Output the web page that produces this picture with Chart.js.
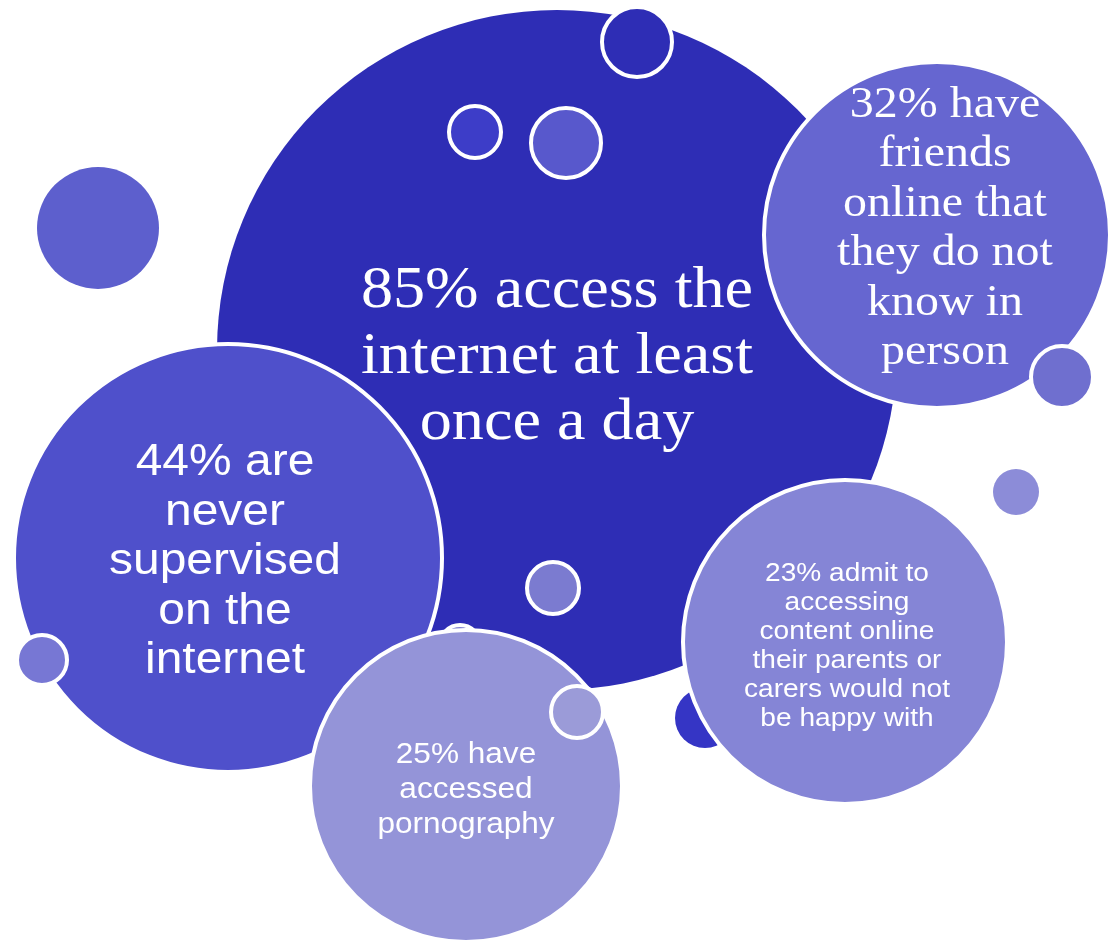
<!DOCTYPE html>
<html>
<head>
<meta charset="utf-8">
<script src="https://cdn.jsdelivr.net/npm/chart.js@4.4.0/dist/chart.umd.min.js"></script>
<style>
  html, body { margin: 0; padding: 0; background: #fff; overflow: hidden; }
  #wrap { width: 1114px; height: 944px; }
</style>
</head>
<body>
<div id="wrap"><canvas id="bubbles" width="1114" height="944"></canvas></div>
<script>
// bubbles, back to front
const bubbleX = [557, 98, 637, 475, 566, 937, 1062, 1016, 228, 42, 553, 460, 705, 466, 577, 845];
const bubbleY = [350, 228, 42, 132, 143, 235, 377, 492, 558, 660, 588, 645, 718, 786, 712, 642];
const bubbleR = [340, 61, 35, 26, 35, 173, 31, 23, 214, 25, 26, 20, 30, 156, 26, 162];

// statements written in the big bubbles (index into the arrays above)
const statIndex = [0, 5, 8, 13, 15];
const statLines = [
  ["85% access the", "internet at least", "once a day"],
  ["32% have", "friends", "online that", "they do not", "know in", "person"],
  ["44% are", "never", "supervised", "on the", "internet"],
  ["25% have", "accessed", "pornography"],
  ["23% admit to", "accessing", "content online", "their parents or", "carers would not", "be happy with"]
];

(function () {
  "use strict";

  const fills = ["#2e2db5", "#5d5fcd", "#2e2db5", "#3d3dc8", "#5858cc", "#6666d0", "#6f6fcf", "#8c8cd8",
                 "#4f50cb", "#7777d4", "#7b7bd0", "#8080d0", "#3535c5", "#9494d8", "#9b9bd8", "#8585d6"];
  const borders = [0, 0, 4, 4, 4, 4, 4, 0, 4, 4, 4, 4, 0, 4, 4, 4];

  const serif = "'Liberation Serif', 'Times New Roman', serif";
  const sans = "'Liberation Sans', Arial, sans-serif";
  // the original lettering is a bit wider than the stock fonts, so stretch it (sx)
  const textStyle = [
    { family: serif, size: 60, sx: 1.07, lh: 66, dx: 0, dy: 7 },
    { family: serif, size: 44, sx: 1.09, lh: 49.5, dx: 8, dy: -6 },
    { family: sans, size: 44, sx: 1.09, lh: 49.5, dx: -3, dy: 4 },
    { family: sans, size: 29.5, sx: 1.07, lh: 35, dx: 0, dy: 4 },
    { family: sans, size: 26, sx: 1.08, lh: 29, dx: 2, dy: 4 }
  ];

  const labelPlugin = {
    id: "bubbleLabels",
    afterDatasetsDraw(chart) {
      const ctx = chart.ctx;
      const xs = chart.scales.x, ys = chart.scales.y;
      ctx.save();
      ctx.fillStyle = "#ffffff";
      ctx.textAlign = "center";
      ctx.textBaseline = "middle";
      statIndex.forEach((idx, k) => {
        const st = textStyle[k];
        const lines = statLines[k];
        const cx = xs.getPixelForValue(bubbleX[idx]) + st.dx;
        const cy = ys.getPixelForValue(bubbleY[idx]) + st.dy;
        ctx.font = st.size + "px " + st.family;
        const top = cy - (lines.length - 1) * st.lh / 2;
        lines.forEach((line, i) => {
          ctx.save();
          ctx.translate(cx, top + i * st.lh);
          ctx.scale(st.sx, 1);
          ctx.fillText(line, 0, 0);
          ctx.restore();
        });
      });
      ctx.restore();
    }
  };

  new Chart(document.getElementById("bubbles"), {
    type: "bubble",
    data: {
      datasets: [{
        data: bubbleX.map((x, i) => ({ x: x, y: bubbleY[i], r: bubbleR[i] })),
        backgroundColor: fills,
        borderColor: "#ffffff",
        borderWidth: borders,
        hoverRadius: 0,
        clip: false
      }]
    },
    options: {
      responsive: false,
      animation: false,
      events: [],
      layout: { padding: 0, autoPadding: false },
      plugins: { legend: { display: false }, tooltip: { enabled: false } },
      scales: {
        x: { type: "linear", min: 0, max: 1114, display: false },
        y: { type: "linear", min: 0, max: 944, reverse: true, display: false }
      }
    },
    plugins: [labelPlugin]
  });
})();
</script>
</body>
</html>
